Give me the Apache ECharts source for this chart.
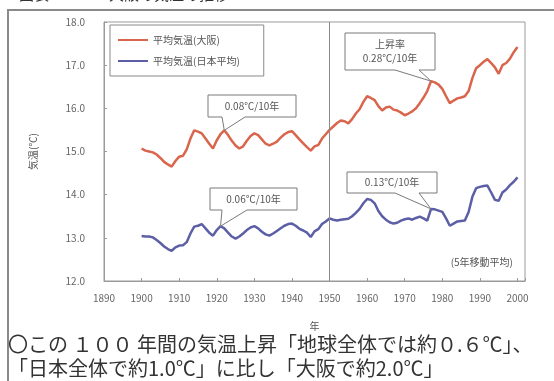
<!DOCTYPE html>
<html>
<head>
<meta charset="utf-8">
<script src="https://cdn.jsdelivr.net/npm/echarts@6/dist/echarts.min.js"></script>
<style>
  html, body { margin: 0; padding: 0; background: #fff; }
  #chart { width: 554px; height: 381px; }
</style>
</head>
<body>
<div id="chart"></div>
<script>
// 5-year moving average of annual mean temperature, 1900-2000
const years = [];
for (let y = 1900; y <= 2000; y++) years.push(y);

const osakaTemp = [
  15.07, 15.02, 15.00, 14.98, 14.93, 14.85, 14.76, 14.70, 14.65, 14.78,
  14.88, 14.90, 15.05, 15.30, 15.49, 15.46, 15.42, 15.30, 15.18, 15.07,
  15.26, 15.40, 15.49, 15.38, 15.25, 15.14, 15.07, 15.12, 15.25, 15.36,
  15.42, 15.38, 15.28, 15.18, 15.14, 15.18, 15.23, 15.32, 15.40, 15.45,
  15.47, 15.38, 15.28, 15.19, 15.10, 15.02, 15.12, 15.15, 15.30, 15.40,
  15.50, 15.58, 15.66, 15.72, 15.70, 15.65, 15.75, 15.88, 15.98, 16.15,
  16.28, 16.24, 16.19, 16.05, 15.95, 16.02, 16.04, 15.97, 15.95, 15.90,
  15.84, 15.88, 15.93, 16.00, 16.12, 16.25, 16.40, 16.63, 16.60, 16.55,
  16.45, 16.28, 16.12, 16.18, 16.23, 16.25, 16.28, 16.40, 16.70, 16.93,
  17.00, 17.08, 17.14, 17.05, 16.95, 16.80, 17.00, 17.05, 17.15, 17.30,
  17.42
];

const japanTemp = [
  13.04, 13.03, 13.03, 13.01, 12.95, 12.88, 12.80, 12.74, 12.70, 12.78,
  12.82, 12.83, 12.90, 13.10, 13.26, 13.28, 13.32, 13.22, 13.12, 13.05,
  13.18, 13.27, 13.22, 13.12, 13.03, 12.98, 13.03, 13.10, 13.18, 13.24,
  13.27, 13.22, 13.14, 13.08, 13.05, 13.10, 13.16, 13.22, 13.28, 13.32,
  13.33, 13.28, 13.21, 13.17, 13.12, 13.02, 13.15, 13.20, 13.32, 13.38,
  13.45, 13.42, 13.40, 13.42, 13.43, 13.44, 13.50, 13.58, 13.67, 13.80,
  13.90, 13.88, 13.80, 13.62, 13.50, 13.42, 13.36, 13.33, 13.35, 13.40,
  13.43, 13.45, 13.42, 13.46, 13.49, 13.45, 13.40, 13.67, 13.66, 13.63,
  13.60, 13.45, 13.28, 13.33, 13.38, 13.39, 13.40, 13.60, 13.95, 14.15,
  14.18, 14.20, 14.21, 14.05, 13.88, 13.86, 14.05, 14.12, 14.22, 14.30,
  14.40
];

const seriesNames = ['平均気温(大阪)', '平均気温(日本平均)'];
const yTicks = [12, 13, 14, 15, 16, 17, 18];
const xTicks = [1890, 1900, 1910, 1920, 1930, 1940, 1950, 1960, 1970, 1980, 1990, 2000];
const splitYear = 1950;

// trend callouts: text, series index, year the pointer touches
const calloutTexts = ['0.08℃/10年', '0.06℃/10年', '上昇率\n0.28℃/10年', '0.13℃/10年'];
const calloutSeries = [0, 1, 0, 1];
const calloutYears = [1922, 1921, 1977, 1977];

const noteText = '(5年移動平均)';
const footLine1 = '〇この １００ 年間の気温上昇「地球全体では約０.６℃」、';
const footLine2 = '「日本全体で約1.0℃」に比し「大阪で約2.0℃」';
const titleText = '■図表１－１　大阪の気温の推移';

const FONT = '"Noto Sans CJK JP", "Noto Sans", sans-serif';
const COLORS = ['#d8654c', '#5c5fa6'];

const chart = echarts.init(document.getElementById('chart'), null, { renderer: 'canvas' });

const toPairs = arr => years.map((y, i) => [y, arr[i]]);

chart.setOption({
  backgroundColor: '#fff',
  animation: false,
  textStyle: { fontFamily: FONT },
  grid: {
    left: 104, top: 22, right: 29, bottom: 100,
    show: true, borderColor: '#9a9a9a', borderWidth: 1, backgroundColor: 'transparent'
  },
  legend: {
    data: seriesNames.map(n => ({ name: n, icon: 'rect' })),
    orient: 'vertical',
    left: 110, top: 25,
    padding: [10, 24, 10, 8],
    itemGap: 11,
    itemWidth: 30, itemHeight: 2,
    borderColor: '#8a8a8a', borderWidth: 1,
    backgroundColor: '#fff',
    textStyle: { fontSize: 10, color: '#555', fontFamily: FONT }
  },
  xAxis: {
    type: 'value',
    min: xTicks[0], max: 2002, interval: 10,
    name: '年', nameLocation: 'middle', nameGap: 40,
    nameTextStyle: { fontSize: 10, color: '#555' },
    axisLine: { show: true, lineStyle: { color: '#9a9a9a' } },
    axisTick: { show: true, inside: true, length: 3, lineStyle: { color: '#9a9a9a' } },
    splitLine: { show: false },
    axisLabel: {
      fontSize: 10, color: '#666', margin: 12,
      formatter: v => (xTicks.indexOf(v) >= 0 ? String(v) : '')
    }
  },
  yAxis: {
    type: 'value',
    min: yTicks[0], max: yTicks[yTicks.length - 1], interval: 1,
    name: '気温(℃)', nameLocation: 'middle', nameGap: 66, nameRotate: 90,
    nameTextStyle: { fontSize: 10, color: '#555' },
    axisLine: { show: true, lineStyle: { color: '#9a9a9a' } },
    axisTick: { show: true, inside: true, length: 3, lineStyle: { color: '#9a9a9a' } },
    splitLine: { show: false },
    axisLabel: { fontSize: 10, color: '#666', margin: 19, formatter: v => v.toFixed(1) }
  },
  series: [
    {
      name: seriesNames[0], type: 'line', data: toPairs(osakaTemp),
      symbol: 'none', lineStyle: { width: 2.5, color: COLORS[0] }, itemStyle: { color: COLORS[0] },
      z: 3,
      markLine: {
        silent: true, symbol: 'none', label: { show: false },
        lineStyle: { color: '#8a8a8a', width: 1, type: 'solid' },
        data: [{ xAxis: splitYear }]
      }
    },
    {
      name: seriesNames[1], type: 'line', data: toPairs(japanTemp),
      symbol: 'none', lineStyle: { width: 2.5, color: COLORS[1] }, itemStyle: { color: COLORS[1] },
      z: 3
    }
  ]
});

// callout boxes: [left, top, width, height, wedgeStart, wedgeEnd] in pixels
const calloutBoxes = [
  [208, 95, 88, 22, 14, 37],
  [210, 188, 87, 22, 12, 37],
  [345, 33, 90, 37, 50, 74],
  [347, 172, 90, 21, 48, 72]
];

const seriesData = [osakaTemp, japanTemp];
const graphics = [];

calloutTexts.forEach((txt, i) => {
  const yr = calloutYears[i];
  const val = seriesData[calloutSeries[i]][yr - years[0]];
  const apex = chart.convertToPixel({ gridIndex: 0 }, [yr, val]);
  const [x0, y0, w, h, ws, we] = calloutBoxes[i];
  const y1 = y0 + h;
  graphics.push({
    type: 'polygon',
    z: 10,
    shape: {
      points: [
        [x0, y0], [x0 + w, y0], [x0 + w, y1], [x0 + we, y1],
        [apex[0], apex[1]], [x0 + ws, y1], [x0, y1]
      ]
    },
    style: { fill: '#fff', stroke: '#7a7a7a', lineWidth: 1 }
  });
  graphics.push({
    type: 'text',
    z: 11,
    x: x0 + w / 2, y: y0 + h / 2,
    style: {
      text: txt, fontSize: 10, fill: '#555', fontFamily: FONT,
      align: 'center', verticalAlign: 'middle', lineHeight: 14
    }
  });
});

graphics.push(
  {
    type: 'text', z: 11, x: 513, y: 262,
    style: { text: noteText, fontSize: 10, fill: '#555', fontFamily: FONT, align: 'right', verticalAlign: 'middle' }
  },
  // outer frame: top and left edges
  {
    type: 'polyline', z: 1,
    shape: { points: [[8, 381], [8, 10], [554, 10]] },
    style: { stroke: '#8a8a8a', lineWidth: 2, fill: null }
  },
  {
    type: 'text', z: 1, x: 4, y: -13,
    style: { text: titleText, fontSize: 15, fill: '#333', fontFamily: FONT, align: 'left', verticalAlign: 'top' }
  },
  {
    type: 'text', z: 11, x: 8, y: 344,
    style: { text: footLine1, fontSize: 20, fill: '#333', fontFamily: FONT, align: 'left', verticalAlign: 'middle' }
  },
  {
    type: 'text', z: 11, x: 8, y: 368,
    style: { text: footLine2, fontSize: 20, fill: '#333', fontFamily: FONT, align: 'left', verticalAlign: 'middle' }
  }
);

chart.setOption({ graphic: graphics });
</script>
</body>
</html>
